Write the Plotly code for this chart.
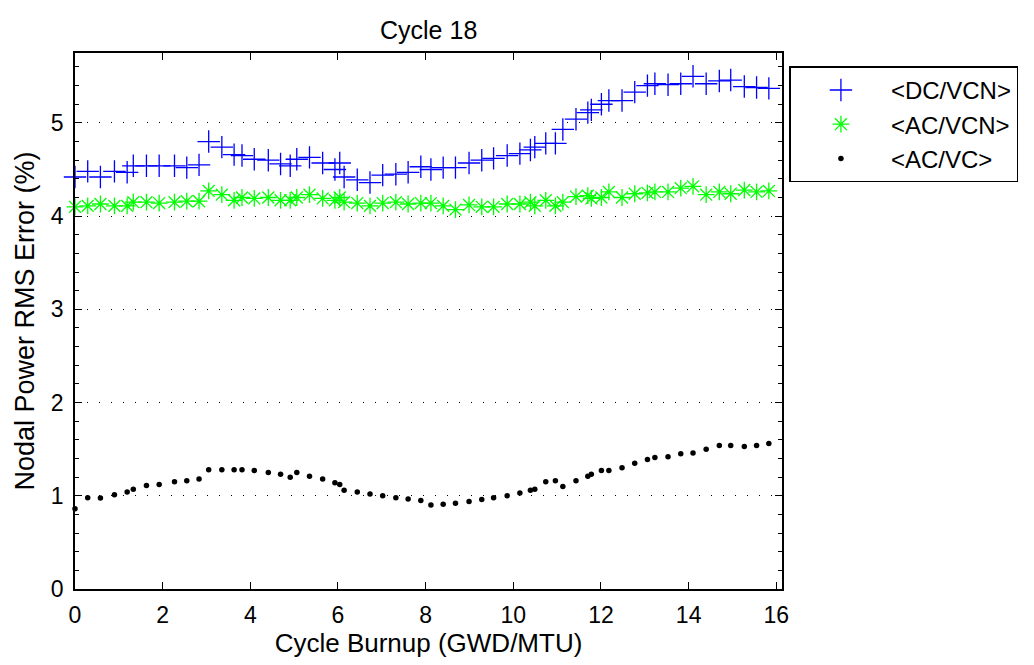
import plotly.graph_objects as go

burnup = [0, 0.29, 0.58, 0.90, 1.19, 1.33, 1.63, 1.92, 2.27, 2.55, 2.83, 3.05, 3.35, 3.63, 3.81,
          4.09, 4.41, 4.69, 4.91, 5.06, 5.35, 5.65, 5.93, 6.04, 6.14, 6.44, 6.73, 7.02, 7.32, 7.60,
          7.89, 8.12, 8.40, 8.68, 8.99, 9.28, 9.55, 9.86, 10.15, 10.39, 10.49, 10.74, 10.96, 11.13,
          11.43, 11.70, 11.78, 12.01, 12.18, 12.48, 12.77, 13.06, 13.23, 13.53, 13.82, 14.10, 14.40,
          14.70, 14.96, 15.27, 15.55, 15.83, 16.14]

dc_vcn = [4.42, 4.48, 4.42, 4.48, 4.47, 4.54, 4.54, 4.54, 4.54, 4.52, 4.55, 4.80, 4.74, 4.66, 4.65,
          4.61, 4.60, 4.56, 4.54, 4.61, 4.63, 4.57, 4.50, 4.57, 4.42, 4.39, 4.36, 4.44, 4.45, 4.47,
          4.53, 4.50, 4.52, 4.52, 4.57, 4.60, 4.62, 4.65, 4.67, 4.71, 4.74, 4.78, 4.78, 4.93,
          5.04, 5.11, 5.14, 5.20, 5.24, 5.24, 5.33, 5.40, 5.42, 5.41, 5.42, 5.50, 5.42,
          5.45, 5.46, 5.39, 5.38, 5.37, 5.36]

ac_vcn = [4.10, 4.11, 4.13, 4.11, 4.11, 4.15, 4.15, 4.14, 4.15, 4.16, 4.16, 4.27, 4.23, 4.17, 4.20,
          4.19, 4.20, 4.17, 4.17, 4.20, 4.23, 4.19, 4.17, 4.20, 4.15, 4.14, 4.11, 4.14, 4.15, 4.13,
          4.14, 4.14, 4.11, 4.07, 4.12, 4.10, 4.10, 4.13, 4.13, 4.15, 4.11, 4.17, 4.11, 4.15,
          4.21, 4.22, 4.19, 4.20, 4.26, 4.20, 4.24, 4.25, 4.26, 4.26, 4.30, 4.32, 4.23,
          4.26, 4.24, 4.28, 4.26, 4.27, 4.25]

ac_vc = [0.86, 0.98, 0.975, 1.01, 1.04, 1.07, 1.11, 1.12, 1.15, 1.16, 1.18, 1.28, 1.28, 1.28, 1.28,
         1.27, 1.25, 1.23, 1.20, 1.25, 1.21, 1.18, 1.14, 1.12, 1.06, 1.04, 1.02, 1.00, 0.98, 0.965,
         0.95, 0.90, 0.91, 0.92, 0.94, 0.96, 0.98, 1.00, 1.03, 1.06, 1.07, 1.15, 1.16, 1.10,
         1.16, 1.21, 1.23, 1.27, 1.27, 1.30, 1.35, 1.39, 1.41, 1.42, 1.45, 1.46, 1.50,
         1.54, 1.54, 1.53, 1.54, 1.56, 1.58]

x_ticks = [0, 2, 4, 6, 8, 10, 12, 14, 16]
y_ticks = [0, 1, 2, 3, 4, 5]

FONT = "Liberation Sans, Arial, Helvetica, sans-serif"
TICK_FS = 23
LABEL_FS = 26
YLABEL_FS = 27
TITLE_FS = 25
LEGEND_FS = 24

fig = go.Figure()
fig.add_trace(go.Scatter(x=burnup, y=dc_vcn, mode="markers", name="<DC/VCN>",
                         cliponaxis=False,
                         marker=dict(symbol="cross-thin-open", size=16, color="#0000ff",
                                     line=dict(color="#0000ff", width=1.3))))
fig.add_trace(go.Scatter(x=burnup, y=ac_vcn, mode="markers", name="<AC/VCN>",
                         cliponaxis=False,
                         marker=dict(symbol="asterisk-open", size=14, color="#00ff00",
                                     line=dict(color="#00ff00", width=1.3))))
fig.add_trace(go.Scatter(x=burnup, y=ac_vc, mode="markers", name="<AC/VC>",
                         cliponaxis=False,
                         marker=dict(symbol="circle", size=5.5, color="#000000")))

axis_common = dict(showline=True, linecolor="black", linewidth=1.5, mirror="ticks",
                   ticks="inside", tickcolor="black", tickwidth=1, ticklen=7,
                   zeroline=False,
                   tickfont=dict(family=FONT, size=TICK_FS, color="black"))

fig.update_xaxes(range=[0, 16.13], tickvals=x_ticks, ticktext=[str(v) for v in x_ticks],
                 showgrid=False, ticklabelstandoff=5,
                 title=dict(text="Cycle Burnup (GWD/MTU)", standoff=0,
                            font=dict(family=FONT, size=LABEL_FS, color="black")),
                 **axis_common)
fig.update_yaxes(range=[0, 5.75], tickvals=y_ticks, ticktext=[str(v) for v in y_ticks],
                 showgrid=True, gridcolor="black", gridwidth=1, griddash="1px,11px",
                 ticklabelstandoff=5,
                 minor=dict(dtick=0.2, tick0=0, ticks="inside", ticklen=4, tickcolor="black",
                            tickwidth=1, showgrid=False),
                 title=dict(text="Nodal Power RMS Error (%)", standoff=8,
                            font=dict(family=FONT, size=YLABEL_FS, color="black")),
                 **axis_common)

fig.update_layout(
    width=1034, height=665,
    margin=dict(l=75, r=252, t=53, b=76),
    paper_bgcolor="white", plot_bgcolor="white",
    font=dict(family=FONT, size=TICK_FS, color="black"),
    title=dict(text="Cycle 18", x=(75 + 782.3) / 2 / 1034, xanchor="center",
               y=1 - 30 / 665, yanchor="middle",
               font=dict(family=FONT, size=TITLE_FS, color="black")),
    legend=dict(x=1.0105, y=0.975, xanchor="left", yanchor="top",
                bordercolor="black", borderwidth=1.5, bgcolor="white",
                itemwidth=90, tracegroupgap=0,
                font=dict(family=FONT, size=LEGEND_FS, color="black")),
    showlegend=True,
)

fig.write_html("out.html")
